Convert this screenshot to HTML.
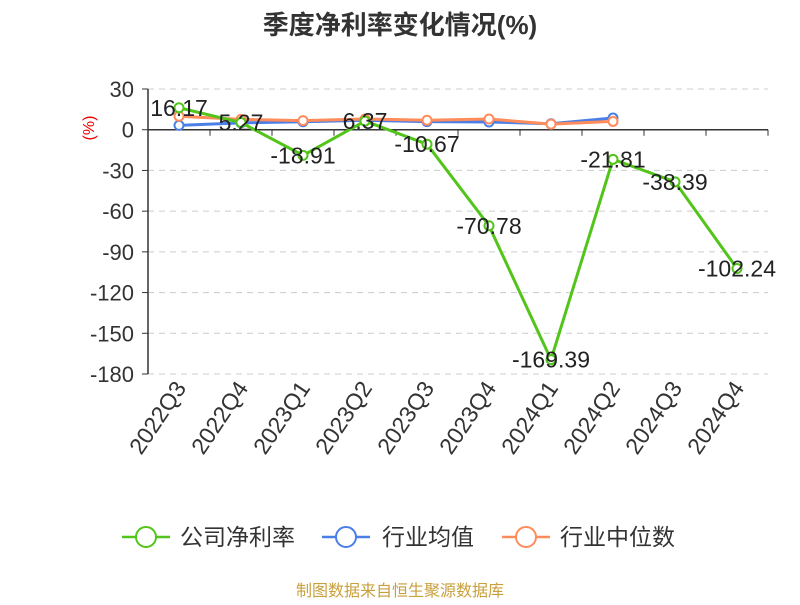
<!DOCTYPE html>
<html><head><meta charset="utf-8"><style>
body{margin:0;background:#fff;}
svg{font-family:"Liberation Sans","Noto Sans CJK SC",sans-serif;}
</style></head><body>
<svg id="chart" width="800" height="600">
<text x="400" y="34" text-anchor="middle" font-size="26" font-weight="bold" fill="#333">季度净利率变化情况(%)</text>
<text x="94" y="128" transform="rotate(-90 94 128)" text-anchor="middle" font-size="16" fill="#e00">(%)</text>
<g id="grid"></g><g id="axes"></g><g id="series"></g><g id="labels"></g>
<g font-size="23" fill="#333">
 <g><line x1="122" y1="537" x2="170" y2="537" stroke="#52c41a" stroke-width="2.5"/><circle cx="146" cy="537" r="10" fill="#fff" stroke="#52c41a" stroke-width="2"/><text x="180" y="545">公司净利率</text></g>
 <g><line x1="322" y1="537" x2="370" y2="537" stroke="#4a7fe8" stroke-width="2.5"/><circle cx="346" cy="537" r="10" fill="#fff" stroke="#4a7fe8" stroke-width="2"/><text x="382" y="545">行业均值</text></g>
 <g><line x1="502" y1="537" x2="550" y2="537" stroke="#ff8c5a" stroke-width="2.5"/><circle cx="526" cy="537" r="10" fill="#fff" stroke="#ff8c5a" stroke-width="2"/><text x="560" y="545">行业中位数</text></g>
</g>
<text x="400" y="596" text-anchor="middle" font-size="16" fill="#c8a03c">制图数据来自恒生聚源数据库</text>
</svg>
<script>
const categories=["2022Q3","2022Q4","2023Q1","2023Q2","2023Q3","2023Q4","2024Q1","2024Q2","2024Q3","2024Q4"];
const companyValues=[16.17,5.27,-18.91,6.37,-10.67,-70.78,-169.39,-21.81,-38.39,-102.24];
const industryMean=[3.2,5,5.9,7,6,5.7,4.4,8.6];
const industryMedian=[9.9,7.6,6.7,7.9,7,7.9,4.1,6.1];
const yTicks=[30,0,-30,-60,-90,-120,-150,-180];
const NS="http://www.w3.org/2000/svg";
const x0=148,x1=768,yTop=89,yBot=374,vMax=30,vMin=-180;
const step=(x1-x0)/categories.length;
const xs=i=>x0+step*(i+0.5);
const ys=v=>yTop+(vMax-v)/(vMax-vMin)*(yBot-yTop);
function mk(tag,attrs,parent){const e=document.createElementNS(NS,tag);for(const k in attrs)e.setAttribute(k,attrs[k]);document.getElementById(parent).appendChild(e);return e;}
yTicks.forEach(t=>{
 if(t!==0){const g=mk('line',{x1:x0,x2:x1,y1:ys(t),y2:ys(t),stroke:'#ccc','stroke-dasharray':'6,5'},'grid');
 
 }
 const tx=mk('text',{x:x0-14,y:ys(t)+8,'text-anchor':'end','font-size':22,fill:'#333'},'axes');tx.textContent=t;
 
 
 const tk=mk('line',{x1:x0-6,x2:x0,y1:ys(t),y2:ys(t),stroke:'#333'},'axes');
 
 
});
const ya=mk('line',{x1:x0,x2:x0,y1:yTop,y2:yBot,stroke:'#333','stroke-width':1.5},'axes');


const xa=mk('line',{x1:x0,x2:x1,y1:ys(0),y2:ys(0),stroke:'#333','stroke-width':1.5},'axes');


for(let i=0;i<=categories.length;i++){const tk=mk('line',{x1:x0+step*i,x2:x0+step*i,y1:ys(0),y2:ys(0)+6,stroke:'#333'},'axes');
 
 }
categories.forEach((c,i)=>{const x=xs(i)+8,y=388;const t=mk('text',{x:x,y:y,'text-anchor':'end','font-size':23,fill:'#333',transform:`rotate(-56 ${x} ${y})`},'axes');t.textContent=c;
 
 });
function series(vals,color,name){
 const p=mk('polyline',{points:vals.map((v,i)=>xs(i)+','+ys(v)).join(' '),fill:'none',stroke:color,'stroke-width':3,'stroke-linejoin':'round'},'series');
 
 
 vals.forEach((v,i)=>{const c=mk('circle',{cx:xs(i),cy:ys(v),r:4.5,fill:'#fff',stroke:color,'stroke-width':2},'series');
 
 });
}
series(industryMean,'#4a7fe8','industry-mean');
series(industryMedian,'#ff8c5a','industry-median');
series(companyValues,'#52c41a','company');
companyValues.forEach((v,i)=>{const t=mk('text',{x:xs(i),y:ys(v)+8,'text-anchor':'middle','font-size':23,fill:'#222'},'labels');t.textContent=v.toFixed(2);
 
 });
</script>
</body></html>
